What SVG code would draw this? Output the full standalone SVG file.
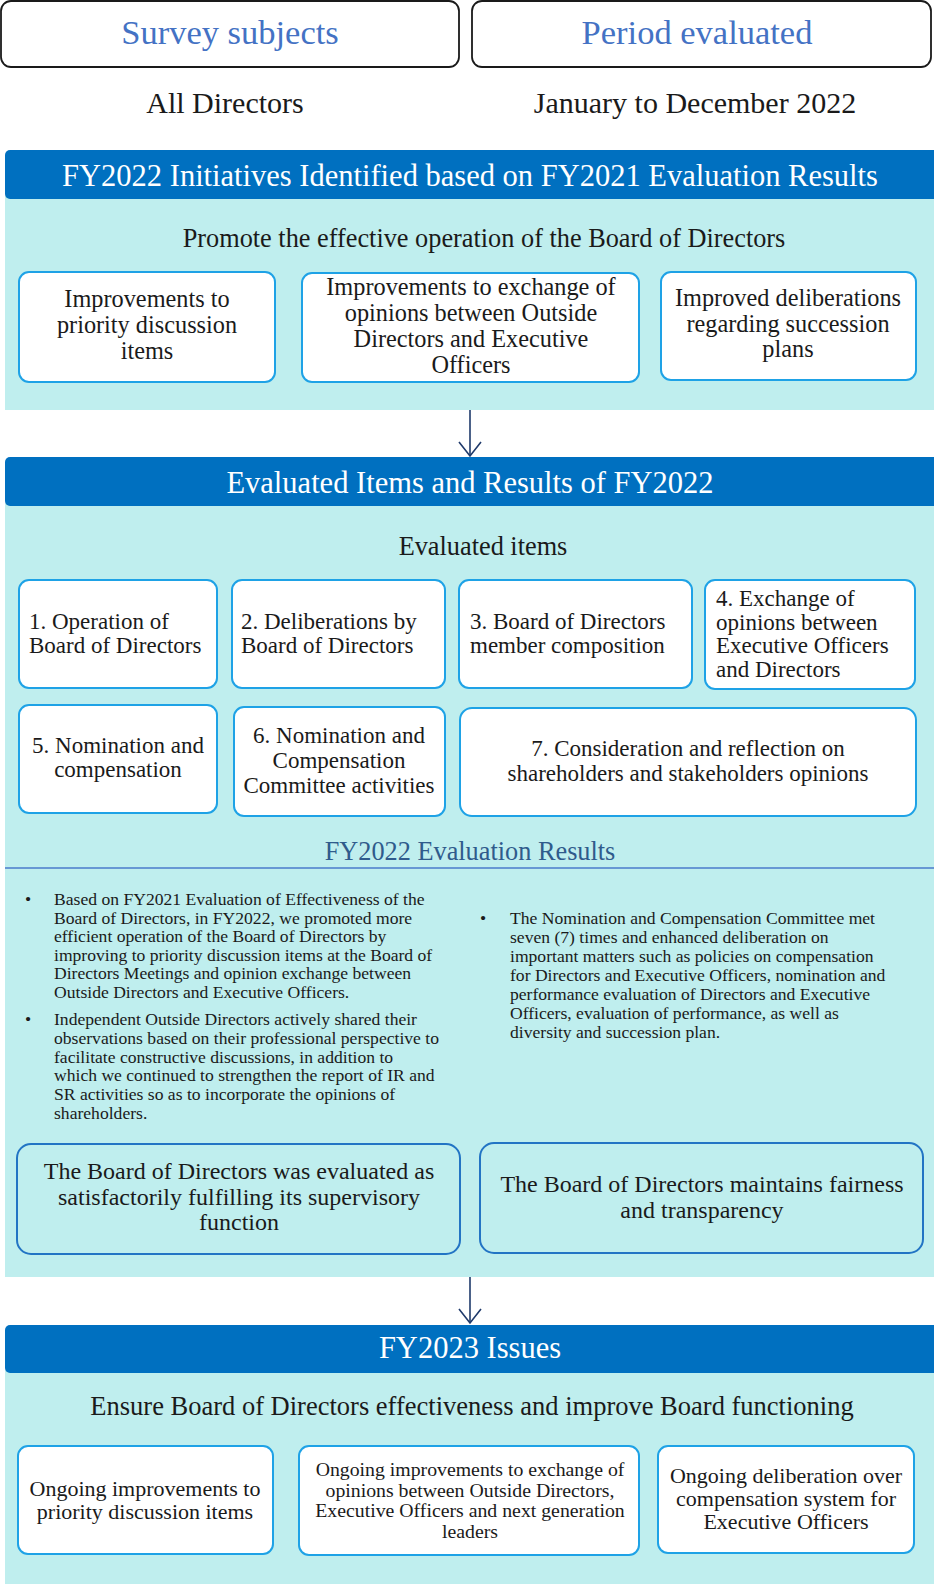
<svg xmlns="http://www.w3.org/2000/svg" width="934" height="1584" viewBox="0 0 934 1584">
<defs>
<style>
.t{font-family:"Liberation Serif","Times New Roman",serif;fill:#1a1a1a}
.c{text-anchor:middle}
.hdr{fill:#0070C0}
.body{fill:#BFEEEE}
.tbox{fill:#ffffff;stroke:#1a1a1a;stroke-width:1.8}
.wbox{fill:#ffffff;stroke:#1EA2E6;stroke-width:2}
.rbox{fill:#BFEEEE;stroke:#2274C4;stroke-width:2}
.blue{fill:#4472C4;font-size:34.5px}
.top{font-size:30px}
.ht{fill:#ffffff;font-size:30.5px}
.sub{font-size:26.3px}
.b1{font-size:24.3px}
.b2{font-size:23px}
.b3{font-size:24px}
.bl{font-size:17.6px}
.b4{font-size:22px}
.b5{font-size:19.8px}
.res{fill:#2F5B8C;font-size:26.3px}
.conn{stroke:#1F3A6B;stroke-width:1.6;fill:none}
</style>
<marker id="arr" viewBox="-1 -1 17 25" refX="14" refY="11" markerWidth="17" markerHeight="25" markerUnits="userSpaceOnUse" orient="auto">
<path d="M0,0 L14,11 L0,22" fill="none" stroke="#1F3A6B" stroke-width="1.6"/>
</marker>
</defs>
<rect width="934" height="1584" fill="#ffffff"/>

<g id="survey-subjects">
<rect class="tbox" x="1" y="1" width="458" height="66" rx="10"/>
<text class="t c blue" x="230" y="44">Survey subjects</text>
<text class="t c top" x="225" y="113">All Directors</text>
</g>
<g id="period-evaluated">
<rect class="tbox" x="472" y="1" width="459" height="66" rx="10"/>
<text class="t c blue" x="697" y="44">Period evaluated</text>
<text class="t c top" x="695" y="113">January to December 2022</text>
</g>

<g id="section-fy2022-initiatives">
<rect class="body" x="5" y="196" width="929" height="214"/>
<rect class="hdr" x="5" y="150" width="940" height="49" rx="5"/>
<text class="t c ht" x="470" y="186">FY2022 Initiatives Identified based on FY2021 Evaluation Results</text>
<text class="t c sub" x="484" y="247">Promote the effective operation of the Board of Directors</text>
</g>
<g id="init-1">
<rect class="wbox" x="19" y="272" width="256" height="110" rx="10"/>
<text class="t c b1" x="147" y="307"><tspan x="147">Improvements to</tspan><tspan x="147" dy="26">priority discussion</tspan><tspan x="147" dy="26">items</tspan></text>
</g>
<g id="init-2">
<rect class="wbox" x="302" y="273" width="337" height="109" rx="10"/>
<text class="t c b1" x="471" y="295"><tspan x="471">Improvements to exchange of</tspan><tspan x="471" dy="26">opinions between Outside</tspan><tspan x="471" dy="26">Directors and Executive</tspan><tspan x="471" dy="26">Officers</tspan></text>
</g>
<g id="init-3">
<rect class="wbox" x="661" y="272" width="255" height="108" rx="10"/>
<text class="t c b1" x="788" y="306"><tspan x="788">Improved deliberations</tspan><tspan x="788" dy="25.5">regarding succession</tspan><tspan x="788" dy="25.5">plans</tspan></text>
</g>

<g id="section-fy2022-evaluation">
<rect class="body" x="5" y="503" width="929" height="774"/>
<rect class="hdr" x="5" y="457" width="940" height="49" rx="5"/>
<text class="t c ht" x="470" y="493">Evaluated Items and Results of FY2022</text>
<text class="t c sub" x="483" y="555">Evaluated items</text>
</g>
<g id="item-1">
<rect class="wbox" x="19" y="580" width="198" height="108" rx="10"/>
<text class="t b2" x="29" y="629"><tspan x="29">1. Operation of</tspan><tspan x="29" dy="24">Board of Directors</tspan></text>
</g>
<g id="item-2">
<rect class="wbox" x="232" y="580" width="213" height="108" rx="10"/>
<text class="t b2" x="241" y="629"><tspan x="241">2. Deliberations by</tspan><tspan x="241" dy="24">Board of Directors</tspan></text>
</g>
<g id="item-3">
<rect class="wbox" x="459" y="580" width="233" height="108" rx="10"/>
<text class="t b2" x="470" y="629"><tspan x="470">3. Board of Directors</tspan><tspan x="470" dy="24">member composition</tspan></text>
</g>
<g id="item-4">
<rect class="wbox" x="705" y="580" width="210" height="109" rx="10"/>
<text class="t b2" x="716" y="606"><tspan x="716">4. Exchange of</tspan><tspan x="716" dy="23.7">opinions between</tspan><tspan x="716" dy="23.7">Executive Officers</tspan><tspan x="716" dy="23.7">and Directors</tspan></text>
</g>
<g id="item-5">
<rect class="wbox" x="19" y="705" width="198" height="108" rx="10"/>
<text class="t c b2" x="118" y="753"><tspan x="118">5. Nomination and</tspan><tspan x="118" dy="24">compensation</tspan></text>
</g>
<g id="item-6">
<rect class="wbox" x="234" y="707" width="211" height="109" rx="10"/>
<text class="t c b2" x="339" y="743"><tspan x="339">6. Nomination and</tspan><tspan x="339" dy="25">Compensation</tspan><tspan x="339" dy="25">Committee activities</tspan></text>
</g>
<g id="item-7">
<rect class="wbox" x="460" y="708" width="456" height="108" rx="12"/>
<text class="t c b2" x="688" y="756"><tspan x="688">7. Consideration and reflection on</tspan><tspan x="688" dy="25">shareholders and stakeholders opinions</tspan></text>
</g>

<g id="evaluation-results">
<text class="t c res" x="470" y="860">FY2022 Evaluation Results</text>
<line x1="5" y1="868" x2="934" y2="868" stroke="#4A7BCB" stroke-width="1.5"/>
<g class="t bl">
<text x="25" y="905">•</text>
<text x="54" y="905"><tspan x="54">Based on FY2021 Evaluation of Effectiveness of the</tspan><tspan x="54" dy="18.6">Board of Directors, in FY2022, we promoted more</tspan><tspan x="54" dy="18.6">efficient operation of the Board of Directors by</tspan><tspan x="54" dy="18.6">improving to priority discussion items at the Board of</tspan><tspan x="54" dy="18.6">Directors Meetings and opinion exchange between</tspan><tspan x="54" dy="18.6">Outside Directors and Executive Officers.</tspan></text>
<text x="25" y="1025">•</text>
<text x="54" y="1025"><tspan x="54">Independent Outside Directors actively shared their</tspan><tspan x="54" dy="18.8">observations based on their professional perspective to</tspan><tspan x="54" dy="18.8">facilitate constructive discussions, in addition to</tspan><tspan x="54" dy="18.8">which we continued to strengthen the report of IR and</tspan><tspan x="54" dy="18.8">SR activities so as to incorporate the opinions of</tspan><tspan x="54" dy="18.8">shareholders.</tspan></text>
<text x="480" y="924">•</text>
<text x="510" y="924"><tspan x="510">The Nomination and Compensation Committee met</tspan><tspan x="510" dy="19">seven (7) times and enhanced deliberation on</tspan><tspan x="510" dy="19">important matters such as policies on compensation</tspan><tspan x="510" dy="19">for Directors and Executive Officers, nomination and</tspan><tspan x="510" dy="19">performance evaluation of Directors and Executive</tspan><tspan x="510" dy="19">Officers, evaluation of performance, as well as</tspan><tspan x="510" dy="19">diversity and succession plan.</tspan></text>
</g>
</g>
<g id="result-1">
<rect class="rbox" x="17" y="1144" width="443" height="110" rx="14"/>
<text class="t c b3" x="239" y="1179"><tspan x="239">The Board of Directors was evaluated as</tspan><tspan x="239" dy="25.5">satisfactorily fulfilling its supervisory</tspan><tspan x="239" dy="25.5">function</tspan></text>
</g>
<g id="result-2">
<rect class="rbox" x="480" y="1143" width="443" height="110" rx="14"/>
<text class="t c b3" x="702" y="1192"><tspan x="702">The Board of Directors maintains fairness</tspan><tspan x="702" dy="25.5">and transparency</tspan></text>
</g>

<g id="section-fy2023-issues">
<rect class="body" x="5" y="1370" width="929" height="214"/>
<rect class="hdr" x="5" y="1325" width="940" height="48" rx="5"/>
<text class="t c ht" x="470" y="1358">FY2023 Issues</text>
<text class="t c" style="font-size:26.5px" x="472" y="1415">Ensure Board of Directors effectiveness and improve Board functioning</text>
</g>
<g id="issue-1">
<rect class="wbox" x="18" y="1446" width="255" height="108" rx="10"/>
<text class="t c b4" x="145" y="1496"><tspan x="145">Ongoing improvements to</tspan><tspan x="145" dy="22.5">priority discussion items</tspan></text>
</g>
<g id="issue-2">
<rect class="wbox" x="299" y="1446" width="340" height="109" rx="10"/>
<text class="t c b5" x="470" y="1476"><tspan x="470">Ongoing improvements to exchange of</tspan><tspan x="470" dy="20.7">opinions between Outside Directors,</tspan><tspan x="470" dy="20.7">Executive Officers and next generation</tspan><tspan x="470" dy="20.7">leaders</tspan></text>
</g>
<g id="issue-3">
<rect class="wbox" x="658" y="1446" width="256" height="107" rx="10"/>
<text class="t c b4" x="786" y="1483"><tspan x="786">Ongoing deliberation over</tspan><tspan x="786" dy="23">compensation system for</tspan><tspan x="786" dy="23">Executive Officers</tspan></text>
</g>

<g id="connectors">
<line class="conn" x1="470" y1="410" x2="470" y2="456" marker-end="url(#arr)"/>
<line class="conn" x1="470" y1="1277" x2="470" y2="1323" marker-end="url(#arr)"/>
</g>
</svg>
